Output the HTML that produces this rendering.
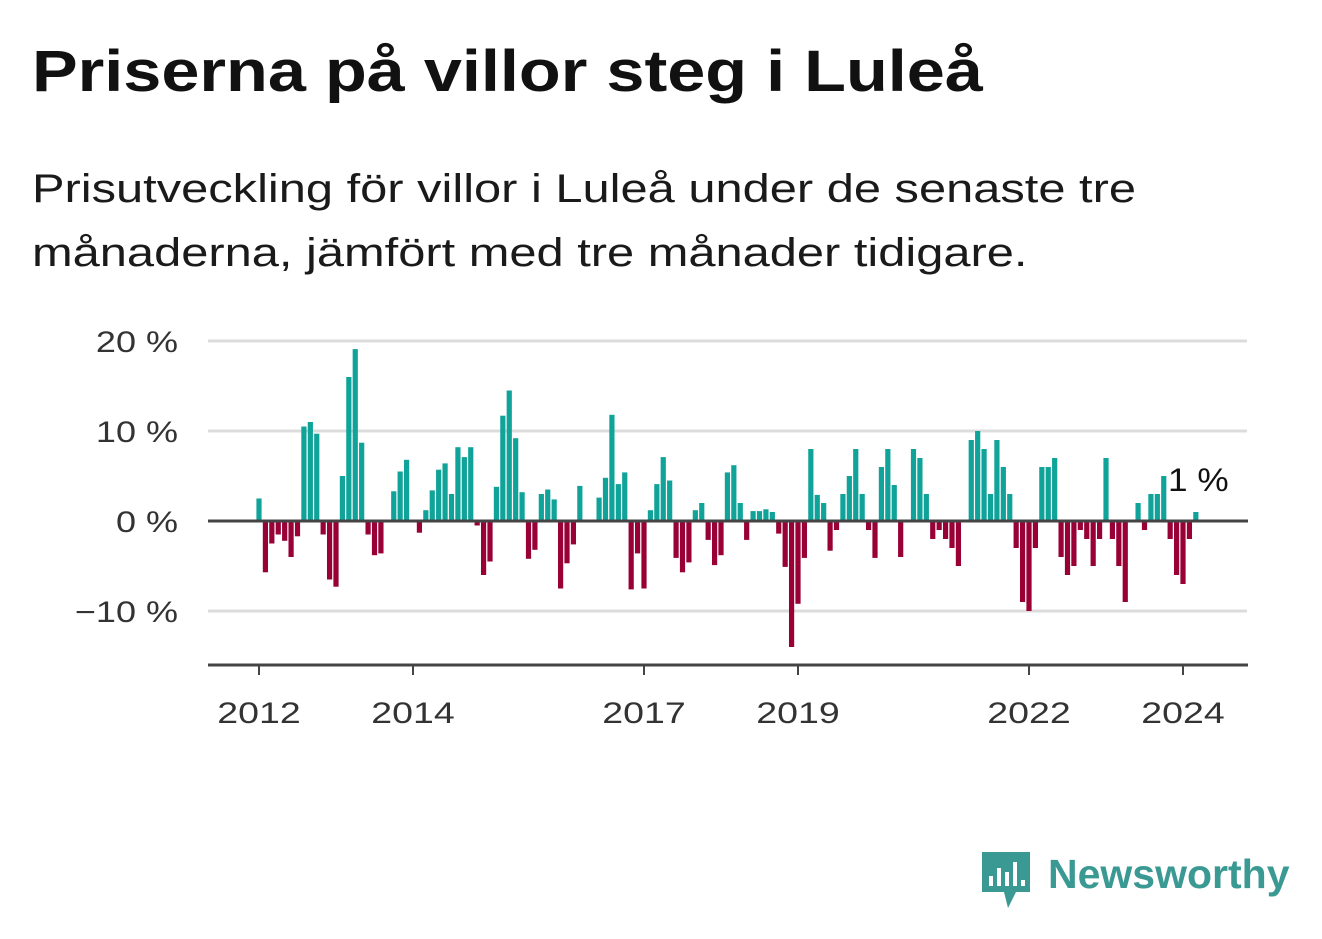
<!DOCTYPE html>
<html><head><meta charset="utf-8">
<style>
body{margin:0;background:#fff;width:1322px;height:939px;overflow:hidden;font-family:"Liberation Sans",sans-serif;color:#111;}
#title{position:absolute;left:32px;top:38px;font-size:58px;font-weight:bold;margin:0;white-space:nowrap;transform:scaleX(1.18);transform-origin:0 0;}
#subtitle{position:absolute;left:32px;top:157px;font-size:40px;line-height:64px;margin:0;color:#1a1a1a;white-space:nowrap;transform:scaleX(1.22);transform-origin:0 0;}
svg{position:absolute;left:0;top:0;}
</style></head><body>
<h1 id="title">Priserna på villor steg i Luleå</h1>
<p id="subtitle">Prisutveckling för villor i Luleå under de senaste tre<br>månaderna, jämfört med tre månader tidigare.</p>
<svg id="chart" width="1322" height="939"></svg>
<script>
const startYear = 2012;
const values = [2.5,-5.7,-2.5,-1.5,-2.2,-4,-1.7,10.5,11,9.7,-1.5,-6.5,
-7.3,5,16,19.1,8.7,-1.5,-3.8,-3.6,0,3.3,5.5,6.8,
0,-1.3,1.2,3.4,5.7,6.4,3,8.2,7.1,8.2,-0.5,-6,
-4.5,3.8,11.7,14.5,9.2,3.2,-4.2,-3.2,3,3.5,2.4,-7.5,
-4.7,-2.6,3.9,0,0,2.6,4.8,11.8,4.1,5.4,-7.6,-3.6,
-7.5,1.2,4.1,7.1,4.5,-4.1,-5.7,-4.6,1.2,2,-2.1,-4.9,
-3.8,5.4,6.2,2,-2.1,1.1,1.1,1.3,1,-1.4,-5.1,-14,
-9.2,-4.1,8,2.9,2,-3.3,-1,3,5,8,3,-1,
-4.1,6,8,4,-4,0,8,7,3,-2,-1,-2,
-3,-5,0,9,10,8,3,9,6,3,-3,-9,
-10,-3,6,6,7,-4,-6,-5,-1,-2,-5,-2,
7,-2,-5,-9,0,2,-1,3,3,5,-2,-6,
-7,-2,1];
const yTicks = [20,10,0,-10];
const yTickLabels = ["20 %","10 %","0 %","−10 %"];
const xTicks = [2012,2014,2017,2019,2022,2024];
const lastLabel = "1 %";

const NS="http://www.w3.org/2000/svg";
const svg=document.getElementById('chart');
const X0=208,X1=1248;
const xOf=t=>259+(t-2012)*77;
const yOf=v=>521-v*9;
function mk(tag,attrs){const e=document.createElementNS(NS,tag);for(const k in attrs)e.setAttribute(k,attrs[k]);svg.appendChild(e);return e;}
function widen(t,f){const w=t.getComputedTextLength();if(w>0){t.setAttribute('textLength',w*f);t.setAttribute('lengthAdjust','spacingAndGlyphs');}}

yTicks.forEach((v,i)=>{
  if(v!==0){const g=mk('line',{x1:X0,x2:X1-1,y1:yOf(v),y2:yOf(v),stroke:'#dcdcdc','stroke-width':3});
  
  }
  const t=mk('text',{x:178,y:yOf(v)+11,'text-anchor':'end','font-size':30,fill:'#333','font-family':'Liberation Sans, sans-serif'});
  t.textContent=yTickLabels[i];
  
  
  widen(t,1.2);
});

values.forEach((v,i)=>{
  const cx=xOf(startYear+i/12);
  const r=mk('rect',{x:cx-2.6,width:5.2,y:Math.min(yOf(v),yOf(0)),height:Math.abs(yOf(v)-yOf(0)),fill:v>=0?'#10a39a':'#990036'});
  
  
});

const z=mk('line',{x1:X0,x2:X1,y1:yOf(0),y2:yOf(0),stroke:'#444','stroke-width':3});



const ax=mk('line',{x1:X0,x2:X1,y1:665,y2:665,stroke:'#444','stroke-width':3});


xTicks.forEach(y=>{
  const tk=mk('line',{x1:xOf(y),x2:xOf(y),y1:665,y2:675,stroke:'#444','stroke-width':2});
  
  
  const t=mk('text',{x:xOf(y),y:723,'text-anchor':'middle','font-size':30,fill:'#333','font-family':'Liberation Sans, sans-serif'});
  t.textContent=y;
  
  
  widen(t,1.25);
});

const ll=mk('text',{x:1168,y:491,'font-size':32,fill:'#111','font-family':'Liberation Sans, sans-serif'});
ll.textContent=lastLabel;


widen(ll,1.1);
</script>
<svg width="1322" height="939" style="position:absolute;left:0;top:0;pointer-events:none">
  <path d="M982 852 h48 v40 h-14 l-8 16 l-4 -16 h-22 z" fill="#3a9a93"/>
  <rect x="989" y="876" width="4" height="10" fill="#fff"/>
  <rect x="997" y="868" width="4" height="18" fill="#fff"/>
  <rect x="1005" y="872" width="4" height="14" fill="#fff"/>
  <rect x="1013" y="862" width="4" height="24" fill="#fff"/>
  <rect x="1021" y="880" width="4" height="6" fill="#fff"/>
  <text x="1048" y="888" font-size="41" font-weight="bold" fill="#3a9a93" font-family="Liberation Sans, sans-serif">Newsworthy</text>
</svg>
</body></html>
